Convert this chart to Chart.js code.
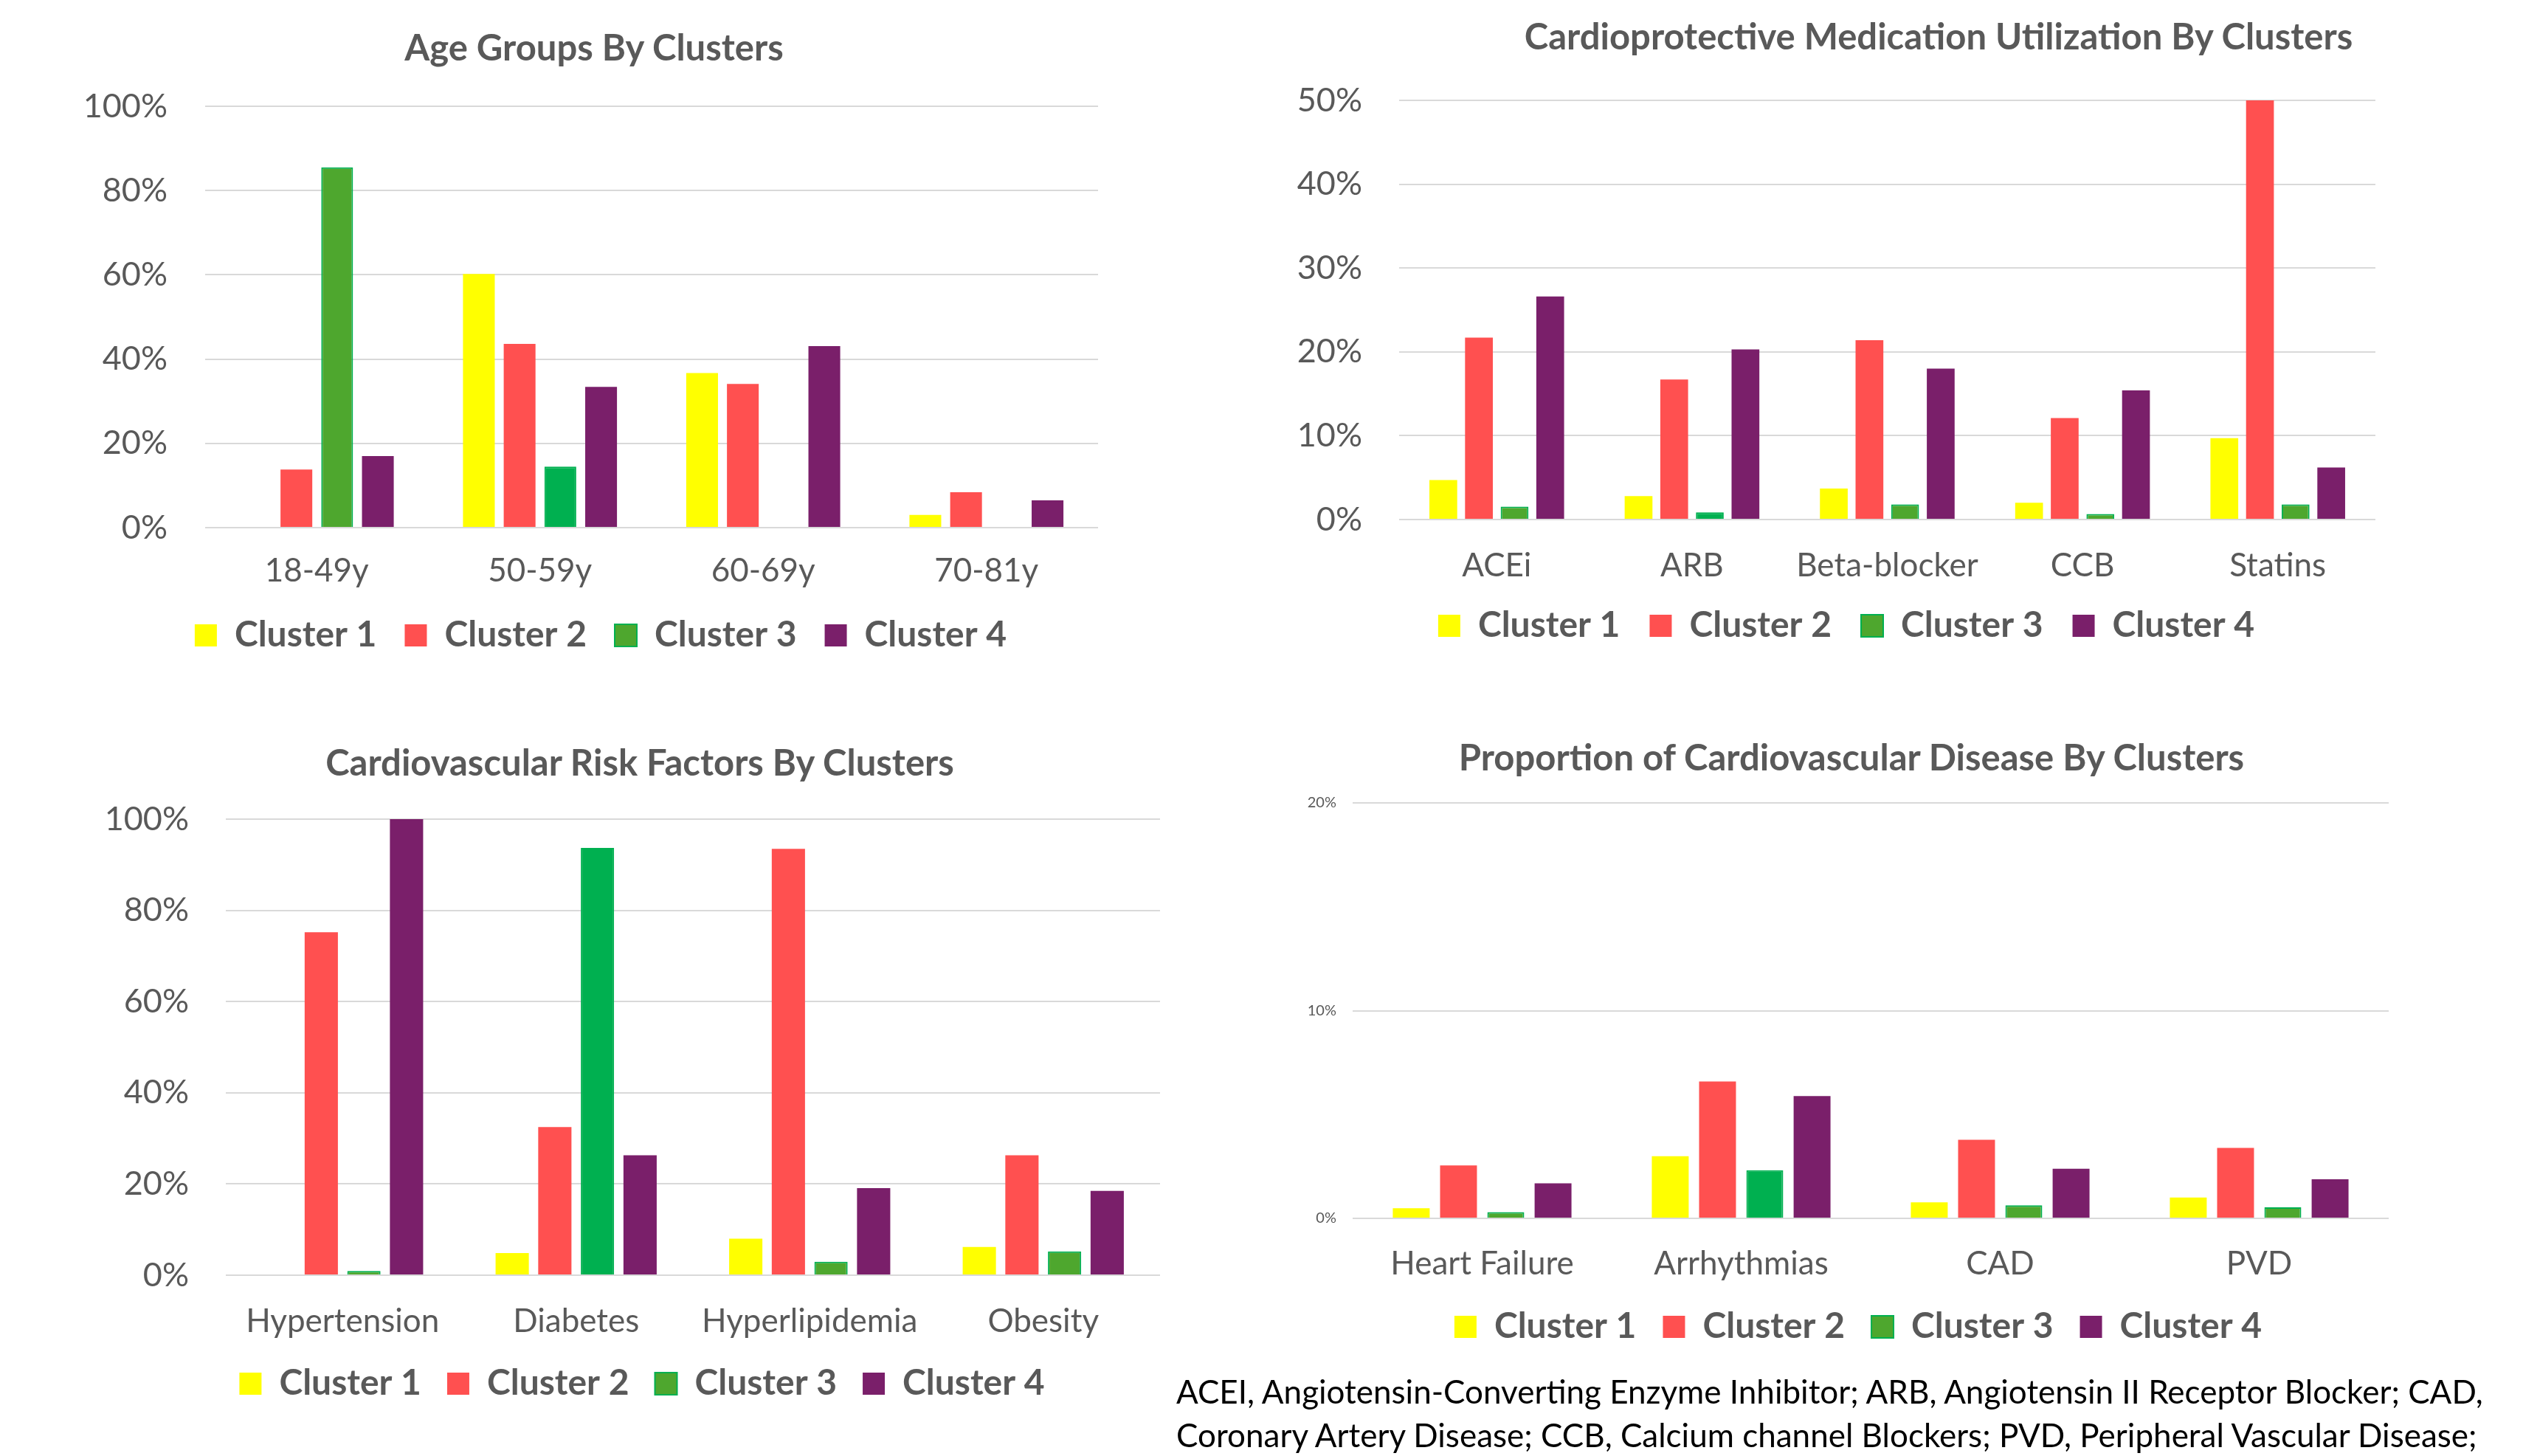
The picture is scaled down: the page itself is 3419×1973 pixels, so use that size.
<!DOCTYPE html>
<html>
<head>
<meta charset="utf-8">
<script src="https://cdn.jsdelivr.net/npm/chart.js@4.4.0/dist/chart.umd.min.js"></script>
<style>
  body { margin: 0; width: 3419px; height: 1973px; background: #fff; position: relative; overflow: hidden; font-family: Lato, sans-serif; }
  .box { position: absolute; }
  .ttl { position: absolute; transform: translate(-50%, -50%); white-space: nowrap; font-weight: bold; color: #595959; font-size: 49px; line-height: 1; }
  #note { position: absolute; left: 1594px; top: 1856px; font-size: 44px; line-height: 59px; color: #000; white-space: nowrap; }
</style>
</head>
<body>
<div class="box" id="boxAge"><canvas id="ageChart"></canvas></div>
<div class="box" id="boxMed"><canvas id="medChart"></canvas></div>
<div class="box" id="boxRisk"><canvas id="riskChart"></canvas></div>
<div class="box" id="boxCvd"><canvas id="cvdChart"></canvas></div>

<div class="ttl" style="left:805px; top:63px">Age Groups By Clusters</div>
<div class="ttl" style="left:2627px; top:48px">Cardioprotective Medication Utilization By Clusters</div>
<div class="ttl" style="left:867px; top:1032px">Cardiovascular Risk Factors By Clusters</div>
<div class="ttl" style="left:2509px; top:1025px">Proportion of Cardiovascular Disease By Clusters</div>

<div id="note">ACEI, Angiotensin-Converting Enzyme Inhibitor; ARB, Angiotensin II Receptor Blocker; CAD,<br>Coronary Artery Disease; CCB, Calcium channel Blockers; PVD, Peripheral Vascular Disease;</div>

<script>
const clusterNames = ['Cluster 1', 'Cluster 2', 'Cluster 3', 'Cluster 4']

// age groups (%)
const ageGroups = ['18-49y', '50-59y', '60-69y', '70-81y']
const ageC1 = [0, 60.2, 36.7, 3.0]
const ageC2 = [13.8, 43.6, 34.1, 8.4]
const ageC3 = [85.5, 14.5, 0, 0]
const ageC4 = [17.0, 33.4, 43.1, 6.5]
const ageTicks = [0, 20, 40, 60, 80, 100]

// cardioprotective medication (%)
const medNames = ['ACEi', 'ARB', 'Beta-blocker', 'CCB', 'Statins']
const medC1 = [4.7, 2.8, 3.7, 2.0, 9.7]
const medC2 = [21.7, 16.7, 21.4, 12.1, 50.0]
const medC3 = [1.55, 0.85, 1.8, 0.65, 1.8]
const medC4 = [26.6, 20.3, 18.0, 15.4, 6.2]
const medTicks = [0, 10, 20, 30, 40, 50]

// risk factors (%)
const riskNames = ['Hypertension', 'Diabetes', 'Hyperlipidemia', 'Obesity']
const riskC1 = [0, 4.85, 8.0, 6.2]
const riskC2 = [75.2, 32.5, 93.5, 26.3]
const riskC3 = [0.95, 93.7, 2.95, 5.2]
const riskC4 = [100, 26.3, 19.1, 18.5]
const riskTicks = [0, 20, 40, 60, 80, 100]

// cardiovascular disease (%)
const cvdNames = ['Heart Failure', 'Arrhythmias', 'CAD', 'PVD']
const cvdC1 = [0.49, 2.99, 0.77, 1.0]
const cvdC2 = [2.55, 6.59, 3.78, 3.39]
const cvdC3 = [0.30, 2.32, 0.63, 0.53]
const cvdC4 = [1.69, 5.89, 2.39, 1.88]
const cvdTicks = [0, 10, 20]

const YELLOW = '#FFFF00', RED = '#FF5050', GREEN = '#4EA72E', GREEN2 = '#00B050', PURPLE = '#7A1F6A'
// cluster 3 bars are not all the same green in the original
const ageC3Fill = [GREEN, GREEN2, GREEN, GREEN]
const medC3Fill = [GREEN, GREEN2, GREEN, GREEN, GREEN]
const riskC3Fill = [GREEN, GREEN2, GREEN, GREEN]
const cvdC3Fill = [GREEN, GREEN2, GREEN, GREEN]

const TEXT = '#595959'
const legendSize = 48, labelSize = 44

function buildChart(id, boxId, g, labels, series, c3Fill, ticks, tickSize) {
  const box = document.getElementById(boxId)
  box.style.left = g.x + 'px'
  box.style.top = g.y + 'px'
  box.style.width = g.w + 'px'
  box.style.height = g.h + 'px'

  // legend sits under the x axis; its text centre = top + pad + size/2
  const legendTop = g.legendY - g.pad - legendSize / 2
  const xAxisH = legendTop - g.b
  const legendH = legendSize + g.pad + 10
  const padBottom = (g.y + g.h) - (legendTop + legendH)

  const fills = [YELLOW, RED, c3Fill, PURPLE]
  const datasets = series.map((s, i) => ({
    label: clusterNames[i],
    data: s,
    backgroundColor: fills[i],
    borderColor: i === 2 ? c3Fill.map(c => c === GREEN ? GREEN2 : c) : fills[i],
    borderWidth: i === 2 ? 2 : 0,
    borderSkipped: 'start',
    categoryPercentage: 0.73,
    barPercentage: 0.78
  }))

  new Chart(document.getElementById(id), {
    type: 'bar',
    data: { labels: labels, datasets: datasets },
    options: {
      responsive: true,
      maintainAspectRatio: false,
      animation: false,
      layout: { padding: { top: g.t - g.y, left: 0, right: 0, bottom: padBottom } },
      plugins: {
        title: { display: false },
        tooltip: { enabled: false },
        legend: {
          position: 'bottom',
          labels: {
            boxWidth: 30,
            boxHeight: 30,
            padding: g.pad,
            color: TEXT,
            font: { family: 'Lato', size: legendSize, weight: 'bold' },
            generateLabels(chart) {
              const items = Chart.defaults.plugins.legend.labels.generateLabels(chart)
              const legendFill = [YELLOW, RED, GREEN, PURPLE]
              items.forEach((it, i) => {
                it.fillStyle = legendFill[i]
                it.strokeStyle = i === 2 ? GREEN2 : legendFill[i]
                it.lineWidth = i === 2 ? 2 : 0
              })
              return items
            }
          }
        }
      },
      scales: {
        x: {
          grid: { display: false, drawTicks: false },
          border: { display: false },
          ticks: { color: TEXT, font: { family: 'Lato', size: labelSize, lineHeight: 1 }, padding: g.labelY - g.b - labelSize / 2, maxRotation: 0, autoSkip: false },
          afterFit(scale) { scale.height = xAxisH }
        },
        y: {
          min: ticks[0],
          max: ticks[ticks.length - 1],
          afterBuildTicks(scale) { scale.ticks = ticks.map(v => ({ value: v })) },
          grid: { color: '#D9D9D9', lineWidth: 2, drawTicks: false },
          border: { display: false },
          ticks: { color: TEXT, font: { family: 'Lato', size: tickSize }, padding: g.l - g.tickRight, callback: v => v + '%' },
          afterFit(scale) { scale.width = g.l - g.x }
        },
        // empty box on the right so the legend centres like the original
        side: {
          position: 'right',
          grid: { display: false },
          border: { display: false },
          ticks: { display: false },
          afterFit(scale) { scale.width = g.x + g.w - g.r }
        }
      }
    }
  })
}

buildChart('ageChart', 'boxAge',
  { x: 0, y: 0, w: 1628, h: 930, l: 278, r: 1488, t: 144, b: 715, tickRight: 227, labelY: 774, legendY: 861, pad: 38 },
  ageGroups, [ageC1, ageC2, ageC3, ageC4], ageC3Fill, ageTicks, 45)

buildChart('medChart', 'boxMed',
  { x: 1620, y: 0, w: 1764, h: 930, l: 1896, r: 3219, t: 136, b: 704, tickRight: 1846, labelY: 767, legendY: 848, pad: 40 },
  medNames, [medC1, medC2, medC3, medC4], medC3Fill, medTicks, 45)

buildChart('riskChart', 'boxRisk',
  { x: 0, y: 950, w: 1740, h: 1000, l: 306, r: 1572, t: 1110, b: 1728, tickRight: 256, labelY: 1791, legendY: 1875, pad: 35 },
  riskNames, [riskC1, riskC2, riskC3, riskC4], riskC3Fill, riskTicks, 45)

buildChart('cvdChart', 'boxCvd',
  { x: 1700, y: 950, w: 1636, h: 900, l: 1833, r: 3237, t: 1088, b: 1651, tickRight: 1811, labelY: 1713, legendY: 1798, pad: 36 },
  cvdNames, [cvdC1, cvdC2, cvdC3, cvdC4], cvdC3Fill, cvdTicks, 20)
</script>
</body>
</html>
